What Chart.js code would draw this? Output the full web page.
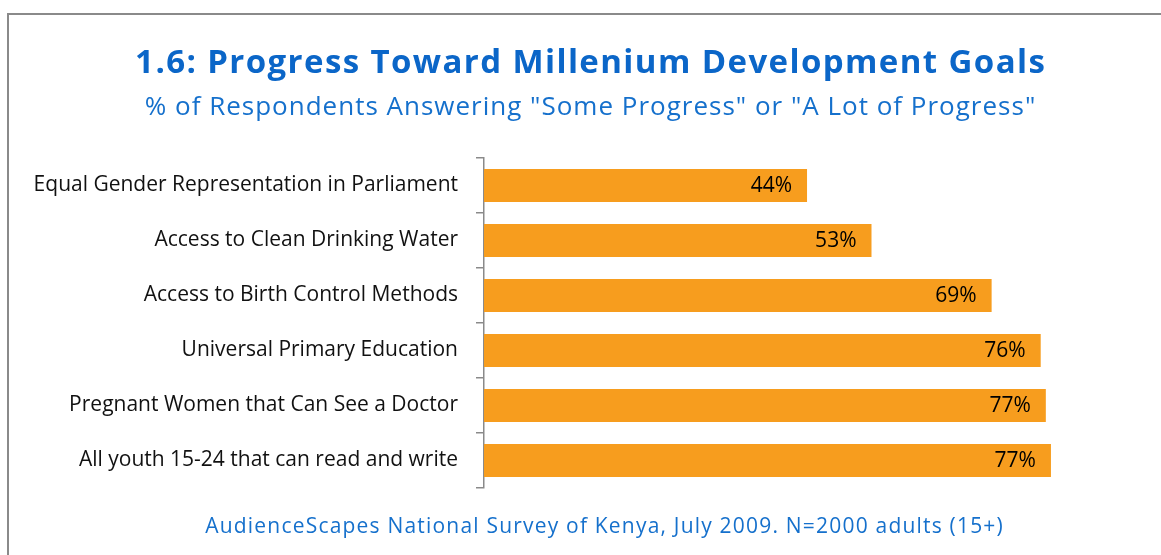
<!DOCTYPE html>
<html>
<head>
<meta charset="utf-8">
<script src="https://cdn.jsdelivr.net/npm/chart.js@4"></script>
<style>
  html, body { margin: 0; padding: 0; background: #fff; }
  #wrap { width: 1161px; height: 555px; }
</style>
</head>
<body>
<div id="wrap"><canvas id="c" width="1161" height="555"></canvas></div>
<script>
// Survey goals and the share answering "some" or "a lot of" progress
const goals = [
  'Equal Gender Representation in Parliament',
  'Access to Clean Drinking Water',
  'Access to Birth Control Methods',
  'Universal Primary Education',
  'Pregnant Women that Can See a Doctor',
  'All youth 15-24 that can read and write'
];
const progressShare = [44.1, 52.9, 69.3, 76.0, 76.7, 77.4];

const titleText = '1.6: Progress Toward Millenium Development Goals';
const subtitleText = '% of Respondents Answering "Some Progress" or "A Lot of Progress"';
const footerText = 'AudienceScapes National Survey of Kenya, July 2009. N=2000 adults (15+)';

const FONT = '"Open Sans", "Noto Sans", sans-serif';

// Draws one centred line of text with a little extra tracking
function spacedLine(ctx, text, x, y, font, spacing) {
  ctx.font = font;
  if ('letterSpacing' in ctx) {
    ctx.letterSpacing = spacing + 'px';
    ctx.fillText(text, x + spacing / 2, y);
    ctx.letterSpacing = '0px';
  } else {
    ctx.fillText(text, x, y);
  }
}

// Frame, heading lines and source note
const decorations = {
  id: 'decorations',
  beforeDraw(chart) {
    const ctx = chart.ctx;
    ctx.save();
    ctx.fillStyle = '#fff';
    ctx.fillRect(0, 0, chart.width, chart.height);
    ctx.strokeStyle = '#8a8a8a';
    ctx.lineWidth = 2;
    ctx.strokeRect(8, 14, 3000, 3000);
    ctx.textAlign = 'center';
    ctx.textBaseline = 'alphabetic';
    ctx.fillStyle = '#0b66c8';
    spacedLine(ctx, titleText, 590, 73, 'bold 33px ' + FONT, 1.4);
    ctx.fillStyle = '#1570cc';
    spacedLine(ctx, subtitleText, 590, 115, '26px ' + FONT, 1.0);
    spacedLine(ctx, footerText, 604, 533, '21px ' + FONT, 1.2);
    ctx.restore();
  }
};

// Percentage labels at the inner end of each bar
const valueLabels = {
  id: 'valueLabels',
  afterDatasetsDraw(chart) {
    const ctx = chart.ctx;
    const meta = chart.getDatasetMeta(0);
    ctx.save();
    ctx.font = '21px ' + FONT;
    ctx.fillStyle = '#000';
    ctx.textAlign = 'right';
    ctx.textBaseline = 'middle';
    meta.data.forEach((bar, i) => {
      const v = chart.data.datasets[0].data[i];
      ctx.fillText(Math.round(v) + '%', bar.x - 15, bar.y + 1);
    });
    ctx.restore();
  }
};

new Chart(document.getElementById('c'), {
  type: 'bar',
  data: {
    labels: goals,
    datasets: [{
      data: progressShare,
      backgroundColor: '#f79d1e',
      borderWidth: 0,
      barPercentage: 0.6,
      categoryPercentage: 1.0
    }]
  },
  options: {
    indexAxis: 'y',
    responsive: false,
    animation: false,
    events: [],
    layout: { padding: { top: 158, bottom: 67, left: 8, right: 91 } },
    plugins: {
      legend: { display: false },
      tooltip: { enabled: false },
      title: { display: false }
    },
    scales: {
      x: {
        display: false,
        min: 0,
        max: 80
      },
      y: {
        afterFit(scale) { scale.width = 476; },
        border: { display: true, color: '#8a8a8a', width: 1.5 },
        grid: {
          offset: true,
          drawOnChartArea: false,
          drawTicks: true,
          tickLength: 8,
          color: '#8a8a8a',
          lineWidth: 1.5
        },
        ticks: {
          color: '#111',
          padding: 18,
          font: { family: FONT, size: 21 }
        }
      }
    }
  },
  plugins: [decorations, valueLabels]
});
</script>
</body>
</html>
